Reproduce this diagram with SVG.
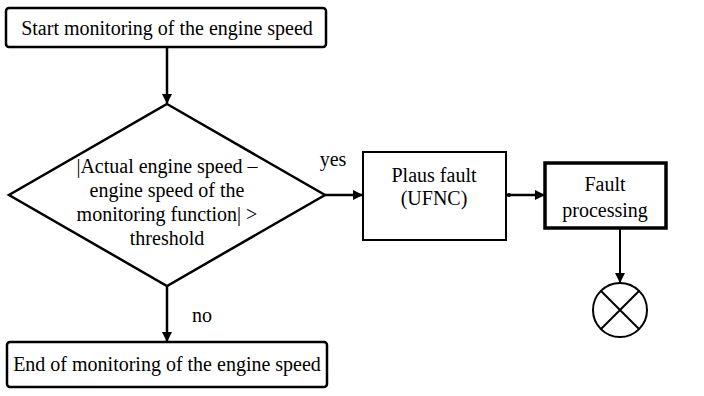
<svg xmlns="http://www.w3.org/2000/svg" width="704" height="396" viewBox="0 0 704 396">
<defs>
<marker id="ah" markerWidth="10" markerHeight="10" refX="9" refY="5" orient="auto" markerUnits="userSpaceOnUse">
<path d="M0,0 L10,5 L0,10 Z" fill="#000"/>
</marker>
<style>
text{font-family:'Liberation Serif','Times New Roman',serif;font-size:20px;fill:#000;stroke:none;text-anchor:middle}
.b{fill:#fff;stroke:#000;stroke-width:2.5}
.b2{fill:#fff;stroke:#000;stroke-width:2}
.b3{fill:#fff;stroke:#000;stroke-width:3.5}
.c{fill:none;stroke:#000;stroke-width:2.5}
.t{fill:none;stroke:#000;stroke-width:2}
</style>
</defs>
<rect width="704" height="396" fill="#fff"/>
<g id="start"><rect class="b" x="6" y="8" width="320" height="39" rx="3"/><text x="167" y="35">Start monitoring of the engine speed</text></g>
<g id="decision"><polygon class="b" points="167,104 325,195 167,286 9,195"/>
<text x="167" y="173">|Actual engine speed –</text>
<text x="167" y="197">engine speed of the</text>
<text x="167" y="221">monitoring function| &gt;</text>
<text x="167" y="245">threshold</text></g>
<g id="plaus"><rect class="b2" x="363" y="152" width="143" height="88"/><text x="434" y="182">Plaus fault</text><text x="434" y="205">(UFNC)</text></g>
<g id="fault"><rect class="b3" x="545" y="163" width="121" height="65"/><text x="605" y="191">Fault</text><text x="605" y="217">processing</text></g>
<g id="end"><rect class="b" x="7" y="342" width="320" height="45" rx="3"/><text x="167" y="371">End of monitoring of the engine speed</text></g>
<g id="stop"><circle class="t" cx="620" cy="310" r="27"/><path class="t" d="M601,291 L639,329 M639,291 L601,329"/></g>
<g id="connectors">
<line class="c" x1="167" y1="47" x2="167" y2="103" marker-end="url(#ah)"/>
<line class="c" x1="325" y1="195" x2="362" y2="195" marker-end="url(#ah)"/>
<line class="c" x1="506" y1="195" x2="544" y2="195" marker-end="url(#ah)"/>
<circle cx="509" cy="195" r="2" fill="#000"/>
<line class="t" x1="620" y1="228" x2="620" y2="282" marker-end="url(#ah)"/>
<line class="c" x1="167" y1="286" x2="167" y2="341" marker-end="url(#ah)"/>
<text x="333" y="166">yes</text>
<text x="202" y="322">no</text>
</g>
</svg>
